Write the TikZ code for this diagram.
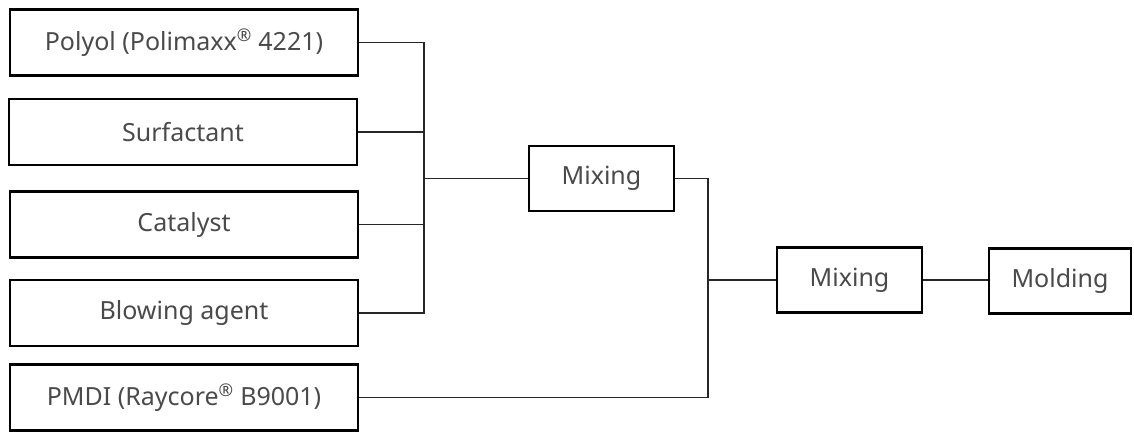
\documentclass[tikz,border=0pt]{standalone}
\usepackage{fontspec}
\setmainfont{Noto Sans}
\definecolor{txt}{HTML}{4A4A4A}
\begin{document}
\begin{tikzpicture}[x=1pt,y=-1pt,
  box/.style={draw=black,line width=2.6pt,inner sep=0pt,text=txt,
    font=\fontsize{25}{28}\selectfont,anchor=center},
  big/.style={box,minimum width=348pt,minimum height=66pt},
  small/.style={box,minimum width=145pt,minimum height=65pt},
  link/.style={draw=black!85,line width=1.3pt}]
\useasboundingbox (0,0) rectangle (1134,434);
\node[big] (p1) at (184,42.5) {Polyol (Polimaxx\textsuperscript{®} 4221)};
\node[big] (su) at (183,132) {Surfactant};
\node[big] (ca) at (184,224.5) {Catalyst};
\node[big] (bl) at (184,313) {Blowing agent};
\node[big] (pm) at (184,397.5) {PMDI (Raycore\textsuperscript{®} B9001)};
\node[small] (m1) at (601.5,178.5) {Mixing};
\node[small] (m2) at (849.5,280) {Mixing};
\node[small,minimum width=142pt] (mo) at (1060,281) {Molding};
\coordinate (j1) at (424,178.5);
\coordinate (j2) at (708,280);
\draw[link] (p1.east) -| (j1);
\draw[link] (bl.east) -| (j1);
\draw[link] (su.east) -- (su.east -| j1);
\draw[link] (ca.east) -- (ca.east -| j1);
\draw[link] (j1) -- (m1.west);
\draw[link] (m1.east) -| (j2);
\draw[link] (pm.east) -| (j2);
\draw[link] (j2) -- (m2.west);
\draw[link] (m2.east) -- (m2.east -| mo.west);
\end{tikzpicture}
\end{document}
